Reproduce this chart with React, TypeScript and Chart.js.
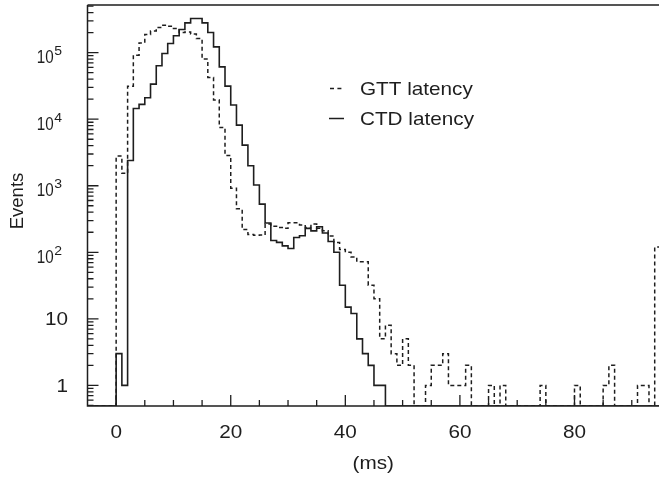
import React, { useEffect, useRef } from 'react';
import { Chart, registerables } from 'chart.js';

Chart.register(...registerables);

// ---- data (1 ms bins, left edges 0..94) ----
const BIN_WIDTH = 1;
const GTT_COUNTS = [
  2790, 1535, 31400, 91600, 140000, 188000, 212000, 239000, 259000, 250000,
  231000, 200000, 205000, 190000, 163000, 80000, 42500, 19400, 7500, 2850,
  920, 450, 220, 185, 180, 182, 265, 247, 236, 229,
  278, 278, 257, 236, 265, 230, 210, 176, 140, 110,
  100, 85, 72, 72, 32, 20, 5, 8, 3, 2,
  5, 2, 0, 0, 1, 2, 2, 3, 1, 1,
  1, 2, 0, 0, 0, 1, 0, 1, 0, 0,
  0, 0, 0, 0, 1, 0, 0, 0, 0, 0,
  1, 0, 0, 0, 0, 1, 2, 0, 0, 0,
  0, 1, 1, 0, 120,
];
const CTD_COUNTS = [
  3, 1, 2400, 14500, 16700, 21000, 33700, 63400, 97300, 137000,
  179000, 223000, 280000, 326000, 326000, 280000, 201000, 122000, 61200, 31400,
  16300, 8150, 4080, 2000, 1025, 530, 275, 150, 141, 125,
  114, 167, 177, 229, 210, 242, 195, 145, 100, 32,
  15, 12, 5, 3, 2, 1, 1, 0, 0, 0,
  0, 0, 0, 0, 0, 0, 0, 0, 0, 0,
  0, 0, 0, 0, 0, 0, 0, 0, 0, 0,
  0, 0, 0, 0, 0, 0, 0, 0, 0, 0,
  0, 0, 0, 0, 0, 0, 0, 0, 0, 0,
  0, 0, 0, 0, 0,
];
const SERIES_LABELS = ['GTT latency', 'CTD latency'];

const X_MIN = -5;
const X_MAX = 94.75;
const Y_MIN = 0.49;
const Y_MAX = 5.2e5;

const X_MAJOR_TICKS = [0, 20, 40, 60, 80];
const X_MINOR_STEP = 5;
const Y_DECADES = [0, 1, 2, 3, 4, 5];
const Y_TICK_LABELS = ['1', '10', '10^2', '10^3', '10^4', '10^5'];
const X_TITLE = '(ms)';
const Y_TITLE = 'Events';

const INK = '#1e1e1e';
const FONT = "'Liberation Sans', Arial, Helvetica, sans-serif";
const SX = 1.12; // horizontal stretch of the original lettering

function histPoints(counts: number[]) {
  const pts: { x: number; y: number }[] = [{ x: X_MIN, y: Y_MIN }];
  counts.forEach((c, i) => pts.push({ x: i * BIN_WIDTH, y: c > 0 ? c : Y_MIN }));
  pts.push({ x: counts.length * BIN_WIDTH, y: Y_MIN });
  return pts;
}

function text(ctx: CanvasRenderingContext2D, s: string, x: number, y: number, align: CanvasTextAlign, size: number, sx = SX) {
  ctx.save();
  ctx.font = `${size}px ${FONT}`;
  ctx.textAlign = align;
  ctx.textBaseline = 'alphabetic';
  ctx.translate(x, y);
  ctx.scale(sx, 1);
  ctx.fillText(s, 0, 0);
  ctx.restore();
}

const framePlugin = {
  id: 'frameAxes',
  afterDraw(chart: any) {
    const { ctx, chartArea: a, scales } = chart;
    const xs = scales.x;
    const ys = scales.y;
    ctx.save();
    ctx.strokeStyle = INK;
    ctx.fillStyle = INK;
    ctx.lineWidth = 1.5;
    ctx.beginPath();
    ctx.moveTo(a.left, a.top);
    ctx.lineTo(a.right + 2, a.top);
    ctx.moveTo(a.left, a.top);
    ctx.lineTo(a.left, a.bottom);
    ctx.lineTo(a.right + 2, a.bottom);
    ctx.stroke();

    // x ticks (inside)
    ctx.lineWidth = 1.3;
    ctx.beginPath();
    for (let v = 0; v <= X_MAX; v += X_MINOR_STEP) {
      const px = xs.getPixelForValue(v);
      const len = X_MAJOR_TICKS.includes(v) ? 11 : 6;
      ctx.moveTo(px, a.bottom);
      ctx.lineTo(px, a.bottom - len);
    }
    // y ticks (inside)
    for (let d = -1; d <= 5; d++) {
      for (let m = 1; m <= 9; m++) {
        const v = m * Math.pow(10, d);
        if (v < Y_MIN || v > Y_MAX) continue;
        const py = ys.getPixelForValue(v);
        const len = m === 1 ? 11 : 6;
        ctx.moveTo(a.left, py);
        ctx.lineTo(a.left + len, py);
      }
    }
    ctx.stroke();

    // x labels
    X_MAJOR_TICKS.forEach((v) => {
      text(ctx, String(v), xs.getPixelForValue(v), 438, 'center', 18.5);
    });
    // y labels
    Y_DECADES.forEach((d, i) => {
      const lab = Y_TICK_LABELS[i];
      const py = ys.getPixelForValue(Math.pow(10, d));
      if (lab.includes('^')) {
        const [base, exp] = lab.split('^');
        ctx.font = `12.5px ${FONT}`;
        const we = ctx.measureText(exp).width * SX;
        const right = 62;
        text(ctx, exp, right, py + 2.5, 'right', 12.5);
        text(ctx, base, right - we - 0.5, py + 10.5, 'right', 18.5, 0.82);
      } else {
        text(ctx, lab, 68, py + 6.5, 'right', 18.5);
      }
    });
    // titles
    text(ctx, X_TITLE, (a.left + a.right) / 2, 469, 'center', 18.5);
    ctx.save();
    ctx.font = `18.5px ${FONT}`;
    ctx.translate(23.3, 201);
    ctx.rotate(-Math.PI / 2);
    ctx.textAlign = 'center';
    ctx.textBaseline = 'alphabetic';
    ctx.fillText(Y_TITLE, 0, 0);
    ctx.restore();

    // legend
    ctx.lineWidth = 1.5;
    ctx.setLineDash([4, 3.4]);
    ctx.beginPath();
    ctx.moveTo(330, 88.5);
    ctx.lineTo(342, 88.5);
    ctx.stroke();
    ctx.setLineDash([]);
    ctx.beginPath();
    ctx.moveTo(329, 118.5);
    ctx.lineTo(344, 118.5);
    ctx.stroke();
    text(ctx, SERIES_LABELS[0], 360, 95, 'left', 18.5);
    text(ctx, SERIES_LABELS[1], 360, 125, 'left', 18.5);
    ctx.restore();
  },
};

export default function App() {
  const ref = useRef<HTMLCanvasElement>(null);
  useEffect(() => {
    if (!ref.current) return;
    const chart = new Chart(ref.current, {
      type: 'line',
      data: {
        datasets: [
          {
            label: SERIES_LABELS[0],
            data: histPoints(GTT_COUNTS),
            stepped: 'before',
            borderColor: INK,
            borderWidth: 1.5,
            borderDash: [4, 3],
            pointRadius: 0,
            fill: false,
          },
          {
            label: SERIES_LABELS[1],
            data: histPoints(CTD_COUNTS),
            stepped: 'before',
            borderColor: INK,
            borderWidth: 1.6,
            pointRadius: 0,
            fill: false,
          },
        ],
      },
      options: {
        animation: false,
        responsive: false,
        devicePixelRatio: 1,
        parsing: false as any,
        normalized: true,
        layout: { padding: { left: 87.5, top: 5, right: 0, bottom: 74 } },
        scales: {
          x: { type: 'linear', min: X_MIN, max: X_MAX, display: false },
          y: { type: 'logarithmic', min: Y_MIN, max: Y_MAX, display: false },
        },
        plugins: { legend: { display: false }, tooltip: { enabled: false } },
        events: [],
      },
      plugins: [framePlugin],
    });
    return () => chart.destroy();
  }, []);
  return (
    <div style={{ position: 'fixed', left: 0, top: 0, width: 659, height: 480, background: '#fff' }}>
      <canvas ref={ref} width={659} height={480} style={{ display: 'block' }} />
    </div>
  );
}
